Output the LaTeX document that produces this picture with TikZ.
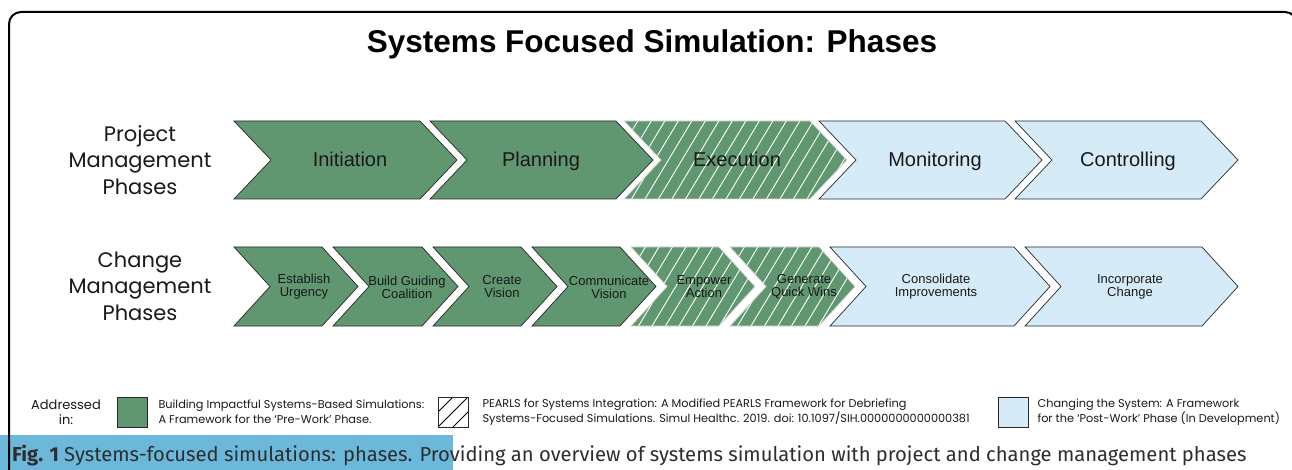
\documentclass[tikz,border=0pt]{standalone}
\usepackage{fontspec}
\setmainfont{Liberation Sans}
\newfontfamily\geofont{Poppins}
\newfontfamily\capfont{Fira Sans}
\usetikzlibrary{calc}

\definecolor{phasegreen}{RGB}{96,150,112}
\definecolor{phaseblue}{RGB}{214,235,248}
\definecolor{capblue}{RGB}{108,184,218}
\definecolor{edgegray}{RGB}{40,40,40}
\definecolor{inkgray}{RGB}{25,25,25}
\definecolor{captionink}{RGB}{45,45,45}

% chevron outline: #2 left x, #3 tip x, #4 top y, #5 bottom y, #6 point depth
\newcommand\chevpath[6]{%
  \path[#1] (#2,#4) -- ({#3-#6},#4) -- (#3,{(#4+#5)/2}) -- ({#3-#6},#5)
    -- (#2,#5) -- ({#2+#6},{(#4+#5)/2}) -- cycle;}
% hatched chevron: green body crossed by white diagonal strokes
\newcommand\chevhatch[5]{%
  \begin{scope}
    \clip (#1,#3) -- ({#2-#5},#3) -- (#2,{(#3+#4)/2}) -- ({#2-#5},#4)
      -- (#1,#4) -- ({#1+#5},{(#3+#4)/2}) -- cycle;
    \fill[phasegreen] ({#1-2},{#3-2}) rectangle ({#2+2},{#4+2});
    \foreach \k in {0,...,22}
      \draw[hatchline] ({#1-60+13.5*\k},#4) -- ({#1-60+13.5*\k+0.6*(#4-#3)},#3);
  \end{scope}
  \chevpath{hatchedge}{#1}{#2}{#3}{#4}{#5}}

\tikzset{
  greenchev/.style={fill=phasegreen, draw=edgegray, line width=0.7pt, line join=miter},
  bluechev/.style={fill=phaseblue, draw=edgegray, line width=0.7pt, line join=miter},
  hatchedge/.style={draw=white!85!black, line width=0.8pt},
  hatchline/.style={draw=white, line width=0.9pt},
  biglabel/.style={font=\fontsize{20}{24}\selectfont, text=inkgray, anchor=base},
  smalllabel/.style={font=\fontsize{13}{13}\selectfont, text=inkgray, align=center},
  rowlabel/.style={font=\geofont\fontsize{21}{26.5}\selectfont, align=center, text=inkgray},
  legendtext/.style={font=\geofont\fontsize{11.3}{15}\selectfont, align=left, anchor=west, text=inkgray},
  swatch/.style={draw=edgegray, line width=0.8pt},
}

\begin{document}
\begin{tikzpicture}[x=1pt, y=-1pt]
  \useasboundingbox (0,0) rectangle (1292,470);
  \clip (0,0) rectangle (1292,470);

  % caption strip and outer frame
  \fill[capblue] (0,435) rectangle (453,470);
  \draw[line width=2pt, rounded corners=12pt] (9,495) -- (9,12) -- (1297,12) -- (1297,495);

  % title
  \node[font=\fontsize{31.5}{36}\selectfont\bfseries, anchor=base] (title) at (652,53) {Systems Focused Simulation: Phases};

  % row labels
  \node[rowlabel] (pmlabel) at (140,160) {Project\\Management\\Phases};
  \node[rowlabel] (cmlabel) at (140,286) {Change\\Management\\Phases};

  % project management phases
  \chevpath{greenchev}{234}{457}{121}{199}{37}
  \chevpath{greenchev}{430}{653}{121}{199}{37}
  \chevhatch{624}{847}{121}{199}{37}
  \chevpath{bluechev}{819}{1042}{121}{199}{37}
  \chevpath{bluechev}{1015}{1238}{121}{199}{37}
  \node[biglabel] (initiation) at (350,167) {Initiation};
  \node[biglabel] (planning)   at (541,167) {Planning};
  \node[biglabel] (execution)  at (737,167) {Execution};
  \node[biglabel] (monitoring) at (935,167) {Monitoring};
  \node[biglabel] (controlling) at (1128,167) {Controlling};

  % change management phases
  \chevpath{greenchev}{234}{358}{247}{326}{36}
  \chevpath{greenchev}{333}{458}{247}{326}{36}
  \chevpath{greenchev}{433}{557}{247}{326}{36}
  \chevpath{greenchev}{532}{656}{247}{326}{36}
  \chevhatch{631}{755}{247}{326}{36}
  \chevhatch{730}{855}{247}{326}{36}
  \chevpath{bluechev}{830}{1050}{247}{326}{36}
  \chevpath{bluechev}{1025}{1238}{247}{326}{36}
  \node[smalllabel] (urgency)   at (304,287) {Establish\\Urgency};
  \node[smalllabel] (coalition) at (407,287) {Build Guiding\\Coalition};
  \node[smalllabel] (vision)    at (502,287) {Create\\Vision};
  \node[smalllabel] (communicate) at (609,287) {Communicate\\Vision};
  \node[smalllabel] (empower)   at (704,287) {Empower\\Action};
  \node[smalllabel] (quickwins) at (804,287) {Generate\\Quick Wins};
  \node[smalllabel] (consolidate) at (936,287) {Consolidate\\Improvements};
  \node[smalllabel] (incorporate) at (1130,287) {Incorporate\\Change};

  % legend
  \node[font=\geofont\fontsize{13}{15}\selectfont, align=center, text=inkgray] (addressed) at (66,412) {Addressed\\in:};
  \draw[swatch, fill=phasegreen] (117,397) rectangle (147,427);
  \node[legendtext] (prework) at (155,412) {Building Impactful Systems-Based Simulations:\\A Framework for the ‘Pre-Work’ Phase.};
  \begin{scope}
    \clip (438,397) rectangle (468,427);
    \foreach \k in {-15,0,15}
      \draw[line width=0.8pt] ({438+\k},427) -- ({468+\k},397);
  \end{scope}
  \draw[swatch] (438,397) rectangle (468,427);
  \node[legendtext] (pearls) at (479,412) {PEARLS for Systems Integration: A Modified PEARLS Framework for Debriefing\\Systems-Focused Simulations. Simul Healthc. 2019. doi: 10.1097/SIH.0000000000000381};
  \draw[swatch, fill=phaseblue] (998,397) rectangle (1028,427);
  \node[legendtext] (postwork) at (1034,412) {Changing the System: A Framework\\for the ‘Post-Work’ Phase (In Development)};

  % caption
  \node[anchor=base west, inner sep=0pt, font=\capfont\fontsize{20.2}{24}\selectfont, text=captionink] (caption) at (12,461)
    {\textbf{Fig. 1} Systems-focused simulations: phases. Providing an overview of systems simulation with project and change management phases};
\end{tikzpicture}
\end{document}
